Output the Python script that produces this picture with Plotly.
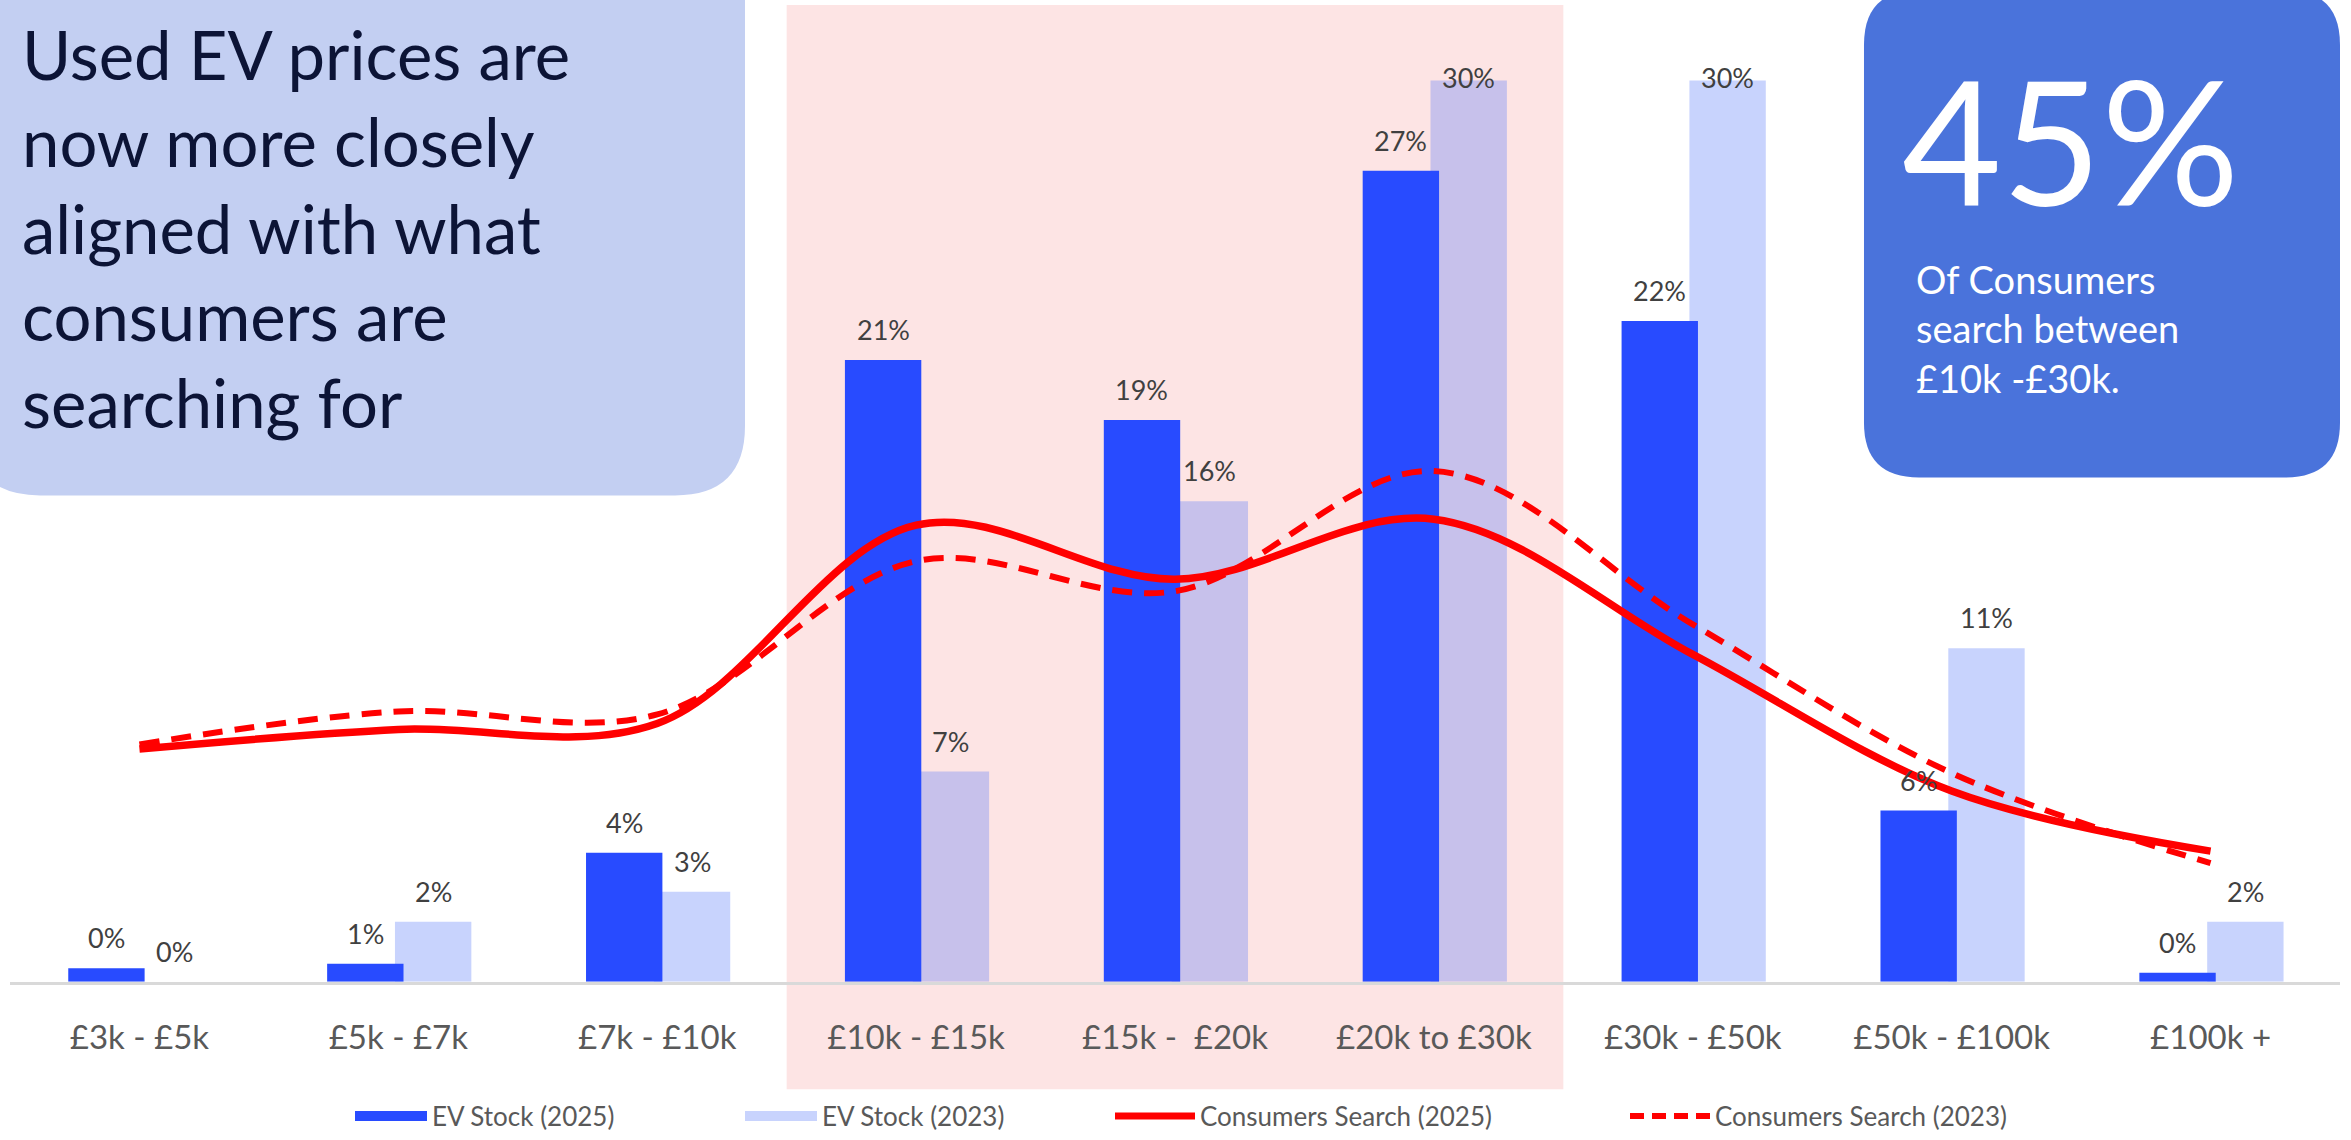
import plotly.graph_objects as go
import numpy as np

W, H = 2351, 1140

categories = ["£3k - £5k", "£5k - £7k", "£7k - £10k", "£10k - £15k", "£15k -  £20k",
              "£20k to £30k", "£30k - £50k", "£50k - £100k", "£100k +"]
ev_stock_2025 = [0.45, 0.6, 4.3, 20.7, 18.7, 27.0, 22.0, 5.7, 0.3]
ev_stock_2023 = [0.0, 2.0, 3.0, 7.0, 16.0, 30.0, 30.0, 11.1, 2.0]
search_2025 = [7.75, 8.4, 8.6, 15.2, 13.4, 15.4, 10.9, 6.35, 4.35]
search_2023 = [7.9, 9.0, 8.9, 14.0, 13.0, 17.0, 11.9, 6.95, 3.95]

FONT = "Lato"
BLUE = "#284BFF"
LIGHT = "rgba(98,129,249,0.35)"
LIGHT_LEG = "#C8D3FD"
RED = "#FF0000"

idx = np.arange(len(categories))
BW = 0.295
OFF25, OFF23 = -0.275, -0.013

# plot area in pixels
PX0, PX1 = 10, 2340
PY_BASE = 987
PX_PER_PCT = 30.2
ymax = PY_BASE / PX_PER_PCT
LABEL_CAP = 29.1  # data labels are kept inside the chart area, as in the original

def fx(px):
    return px / W

def fy(py):
    return 1 - py / H

def rounded_rect(x0, y0, x1, y1, r):
    def P(x, y):
        return f"{fx(x):.5f},{fy(y):.5f}"
    return (f"M{P(x0 + r, y0)} L{P(x1 - r, y0)} Q{P(x1, y0)} {P(x1, y0 + r)} "
            f"L{P(x1, y1 - r)} Q{P(x1, y1)} {P(x1 - r, y1)} "
            f"L{P(x0 + r, y1)} Q{P(x0, y1)} {P(x0, y1 - r)} "
            f"L{P(x0, y0 + r)} Q{P(x0, y0)} {P(x0 + r, y0)} Z")

fig = go.Figure()

fig.add_trace(go.Bar(x=idx, y=ev_stock_2023, width=BW, offset=OFF23, marker_color=LIGHT,
                     marker_line_width=0, showlegend=False, name="EV Stock (2023)"))
fig.add_trace(go.Bar(x=idx, y=ev_stock_2025, width=BW, offset=OFF25, marker_color=BLUE,
                     marker_line_width=0, showlegend=False, name="EV Stock (2025)"))
fig.add_trace(go.Scatter(x=idx, y=search_2025, mode="lines", name="Consumers Search (2025)",
                         line=dict(color=RED, width=7.5, shape="spline", smoothing=1.0),
                         showlegend=False))
fig.add_trace(go.Scatter(x=idx, y=search_2023, mode="lines", name="Consumers Search (2023)",
                         line=dict(color=RED, width=6, shape="spline", smoothing=1.0, dash="20px,12px"),
                         showlegend=False))

# legend entries
fig.add_trace(go.Scatter(x=[None], y=[None], mode="lines", name="EV Stock (2025)",
                         line=dict(color=BLUE, width=16), legend="legend"))
fig.add_trace(go.Scatter(x=[None], y=[None], mode="lines", name="EV Stock (2023)",
                         line=dict(color=LIGHT_LEG, width=16), legend="legend"))
fig.add_trace(go.Scatter(x=[None], y=[None], mode="lines", name="Consumers Search (2025)",
                         line=dict(color=RED, width=7), legend="legend2"))
fig.add_trace(go.Scatter(x=[None], y=[None], mode="lines", name="Consumers Search (2023)",
                         line=dict(color=RED, width=6, dash="14px,8px"), legend="legend2"))

annotations = []
for i in idx:
    for vals, off in ((ev_stock_2025, OFF25), (ev_stock_2023, OFF23)):
        v = vals[i]
        annotations.append(dict(x=i + off + BW / 2, y=min(v, LABEL_CAP), xref="x", yref="y",
                                text=f"{v:.0f}%", showarrow=False, yanchor="bottom",
                                yshift=12, font=dict(family=FONT, size=27, color="#404040")))

annotations.append(dict(x=fx(20), y=fy(12), xref="paper", yref="paper", xanchor="left", yanchor="top",
                        align="left", showarrow=False,
                        text="Used EV prices are<br>now more closely<br>aligned with what<br>consumers are<br>searching for",
                        font=dict(family=FONT, size=67, color="#0C1436")))
annotations.append(dict(x=fx(1900), y=fy(34), xref="paper", yref="paper", xanchor="left", yanchor="top",
                        showarrow=False, text="45%",
                        font=dict(family=FONT, size=172, color="white")))
annotations.append(dict(x=fx(1914), y=fy(255), xref="paper", yref="paper", xanchor="left", yanchor="top",
                        align="left", showarrow=False,
                        text="Of Consumers<br>search between<br>£10k -£30k.",
                        font=dict(family=FONT, size=38, color="white")))

shapes = [
    dict(type="rect", xref="x domain", yref="paper", x0=3 / 9, x1=6 / 9, y0=fy(1095), y1=fy(5),
         fillcolor="#FDE4E4", line_width=0, layer="below"),
    dict(type="path", xref="paper", yref="paper", path=rounded_rect(-30, -80, 745, 498, 70),
         fillcolor="#C3CFF2", line_width=0, layer="below"),
    dict(type="path", xref="paper", yref="paper", path=rounded_rect(1864, -10, 2340, 480, 55),
         fillcolor="#4A73DB", line_width=0, layer="below"),
]

fig.update_layout(
    width=W, height=H,
    margin=dict(l=0, r=0, t=0, b=0),
    paper_bgcolor="white", plot_bgcolor="rgba(0,0,0,0)",
    barmode="overlay",
    font=dict(family=FONT, color="#595959"),
    xaxis=dict(domain=[fx(PX0), fx(PX1)], range=[-0.5, len(categories) - 0.5],
               tickvals=idx, ticktext=categories, showgrid=False, zeroline=False,
               showline=True, linecolor="#D9D9D9", linewidth=3, ticks="",
               ticklabelstandoff=25, tickfont=dict(family=FONT, size=33, color="#595959"),
               fixedrange=True),
    yaxis=dict(domain=[fy(PY_BASE), 1], range=[0, ymax], visible=False, fixedrange=True),
    legend=dict(orientation="h", x=fx(350), y=fy(1122), xanchor="left", yanchor="middle",
                itemwidth=72, entrywidth=303, entrywidthmode="pixels",
                font=dict(family=FONT, size=26, color="#595959"), bgcolor="rgba(0,0,0,0)"),
    legend2=dict(orientation="h", x=fx(1110), y=fy(1122), xanchor="left", yanchor="middle",
                 itemwidth=80, entrywidth=420, entrywidthmode="pixels",
                 font=dict(family=FONT, size=26, color="#595959"), bgcolor="rgba(0,0,0,0)"),
    annotations=annotations,
    shapes=shapes,
    showlegend=True,
)

fig.write_html("out.html", config={"displayModeBar": False},
               post_script="document.body.style.margin='0';")
